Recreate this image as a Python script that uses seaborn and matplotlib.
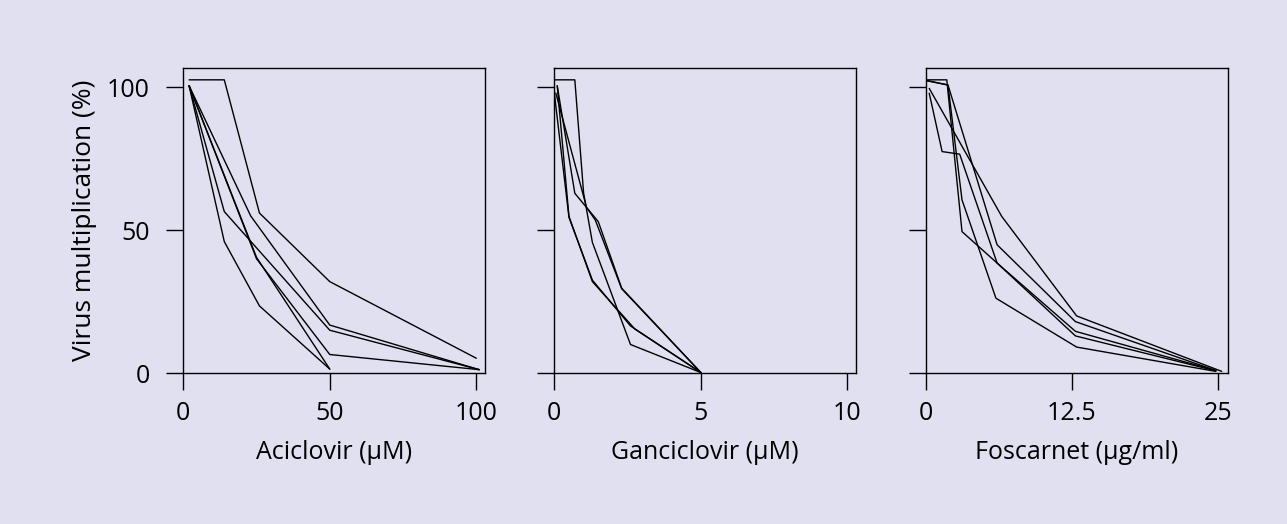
import pandas as pd
import matplotlib
matplotlib.use("Agg")
import matplotlib.pyplot as plt
import seaborn as sns

# drug panels: x labels, ticks, limits
drug_labels = ["Aciclovir (\u03bcM)", "Ganciclovir (\u03bcM)", "Foscarnet (\u03bcg/ml)"]
drug_ticks = [[0, 50, 100], [0, 5, 10], [0, 12.5, 25]]
drug_tick_labels = [["0", "50", "100"], ["0", "5", "10"], ["0", "12.5", "25"]]
drug_xmax = [103, 10.3, 25.8]

y_ticks = [0, 50, 100]

# aciclovir curves (each: x values, y values)
aci_x = [
    [2, 14, 26, 50, 100],
    [2, 14, 50, 101],
    [2, 14, 26, 50],
    [2, 23, 50, 101],
    [2, 25, 50, 101],
    [2, 25, 50],
]
aci_y = [
    [102.6, 102.6, 56, 32, 5.2],
    [100.5, 56.5, 15, 1.2],
    [100.5, 46, 23.5, 1.4],
    [100.5, 55, 16.8, 1.2],
    [100.5, 40, 6.5, 1.2],
    [100.5, 40.5, 1.4],
]

# ganciclovir curves
gan_x = [
    [0.0, 0.7, 1.0, 1.3, 2.6, 5.0],
    [0.1, 0.5, 1.3, 2.75, 5.0],
    [0.0, 0.5, 1.3, 2.6, 5.0],
    [0.1, 0.7, 1.5, 2.3, 5.0],
    [0.05, 1.1, 1.4, 2.3, 5.0],
]
gan_y = [
    [102.6, 102.6, 63, 45.7, 10, 0.2],
    [100.5, 54.8, 32, 15.4, 0.2],
    [98, 54.5, 32.5, 16.5, 0.2],
    [100.5, 62.9, 53, 29.7, 0.2],
    [98, 58, 53.5, 29.5, 0.2],
]

# foscarnet curves
fos_x = [
    [0.1, 1.8, 3.1, 6.1, 12.8, 24.8],
    [0.1, 1.9, 6.1, 12.8, 24.8],
    [0.1, 1.9, 3.1, 6.0, 12.9, 24.8],
    [0.3, 6.5, 12.9, 25.3],
    [0.3, 1.4, 2.9, 6.1, 12.8, 24.8],
]
fos_y = [
    [102.6, 102.6, 49.5, 38.5, 13, 0.8],
    [102.3, 100.8, 44.9, 18, 0.9],
    [102.3, 100.8, 60.6, 26.2, 9.1, 0.6],
    [99.6, 54.8, 20, 0.6],
    [97.9, 77.5, 76.6, 38.5, 14.6, 0.9],
]

all_x = [aci_x, gan_x, fos_x]
all_y = [aci_y, gan_y, fos_y]

bg = "#e1e0f0"

sns.set_theme(style="ticks")
plt.rcParams["font.family"] = ["Open Sans", "DejaVu Sans"]
plt.rcParams["text.color"] = "black"
plt.rcParams["axes.labelcolor"] = "black"

fig = plt.figure(figsize=(12.87, 5.24), dpi=100)
fig.patch.set_facecolor(bg)

lefts = [0.1424, 0.4307, 0.7193]
width = 0.2345
bottom, height = 0.288, 0.582

for i in range(3):
    ax = fig.add_axes([lefts[i], bottom, width, height])
    ax.set_facecolor(bg)

    rows = []
    for k, (xs, ys) in enumerate(zip(all_x[i], all_y[i])):
        for n, (xv, yv) in enumerate(zip(xs, ys)):
            rows.append({"line": k, "order": n, "conc": xv, "pct": yv})
    df = pd.DataFrame(rows)

    sns.lineplot(data=df, x="conc", y="pct", units="line", estimator=None,
                 sort=False, color="black", linewidth=1.0, ax=ax)

    ax.set_xlim(0, drug_xmax[i])
    ax.set_ylim(0, 106.7)
    ax.set_xticks(drug_ticks[i])
    ax.set_xticklabels(drug_tick_labels[i])
    ax.set_yticks(y_ticks)
    if i == 0:
        ax.set_yticklabels([str(t) for t in y_ticks])
        ax.set_ylabel("Virus multiplication (%)", fontsize=19, labelpad=7)
    else:
        ax.set_yticklabels([])
        ax.set_ylabel("")
    ax.set_xlabel(drug_labels[i], fontsize=18, labelpad=10)

    for s in ax.spines.values():
        s.set_visible(True)
        s.set_color("black")
        s.set_linewidth(1.0)
    ax.tick_params(direction="out", length=12, width=1.0, colors="black",
                   labelsize=18, pad=8)
    ax.tick_params(axis="y", pad=12)

fig.savefig("out.png", dpi=100, facecolor=bg)
